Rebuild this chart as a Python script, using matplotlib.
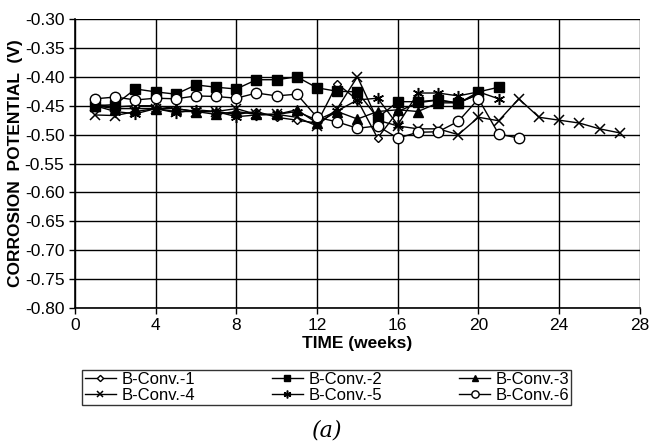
import matplotlib
matplotlib.use('Agg')
import matplotlib.pyplot as plt

WEEKS_1 = list(range(1, 21))
CONV_1 = [-0.448, -0.452, -0.450, -0.450, -0.455, -0.460, -0.460, -0.465, -0.460, -0.470,
          -0.475, -0.480, -0.412, -0.440, -0.506, -0.460, -0.445, -0.440, -0.445, -0.430]

WEEKS_2 = list(range(1, 22))
CONV_2 = [-0.450, -0.448, -0.421, -0.426, -0.430, -0.414, -0.418, -0.421, -0.405, -0.405,
          -0.400, -0.419, -0.425, -0.426, -0.471, -0.443, -0.443, -0.440, -0.446, -0.426,
          -0.418]

WEEKS_3 = list(range(1, 21))
CONV_3 = [-0.450, -0.455, -0.455, -0.455, -0.455, -0.460, -0.465, -0.460, -0.465, -0.465,
          -0.457, -0.480, -0.460, -0.473, -0.460, -0.457, -0.460, -0.445, -0.445, -0.430]

WEEKS_4 = list(range(1, 28))
CONV_4 = [-0.466, -0.467, -0.460, -0.455, -0.460, -0.460, -0.460, -0.455, -0.465, -0.465,
          -0.470, -0.485, -0.455, -0.400, -0.475, -0.485, -0.490, -0.490, -0.500, -0.470,
          -0.476, -0.438, -0.470, -0.475, -0.480, -0.490, -0.497]

WEEKS_5 = list(range(1, 22))
CONV_5 = [-0.450, -0.460, -0.464, -0.455, -0.462, -0.457, -0.460, -0.469, -0.466, -0.465,
          -0.460, -0.475, -0.459, -0.440, -0.437, -0.483, -0.428, -0.428, -0.433, -0.426,
          -0.438]

WEEKS_6 = list(range(1, 23))
CONV_6 = [-0.438, -0.435, -0.440, -0.437, -0.438, -0.433, -0.434, -0.437, -0.428, -0.433,
          -0.430, -0.470, -0.478, -0.489, -0.485, -0.506, -0.496, -0.495, -0.477, -0.438,
          -0.499, -0.506]

X_TICKS = list(range(0, 29, 4))
Y_TICKS = [-0.30 - 0.05 * i for i in range(11)]


def main():
    plt.rcParams['font.family'] = ['Liberation Sans', 'DejaVu Sans']
    fig = plt.figure(figsize=(6.51, 4.48), dpi=100)
    ax = fig.add_axes([0.115, 0.3125, 0.868, 0.645])

    style = dict(color='black', lw=1.0, mec='black')
    ax.plot(WEEKS_1, CONV_1, marker='D', ms=4.5, mfc='white', label='B-Conv.-1', **style)
    ax.plot(WEEKS_2, CONV_2, marker='s', ms=7, mfc='black', label='B-Conv.-2', **style)
    ax.plot(WEEKS_3, CONV_3, marker='^', ms=7, mfc='black', label='B-Conv.-3', **style)
    ax.plot(WEEKS_4, CONV_4, marker='x', ms=7, mew=1.1, label='B-Conv.-4', **style)
    ax.plot(WEEKS_5, CONV_5, marker=(6, 2, 0), ms=8, mew=1.1, label='B-Conv.-5', **style)
    ax.plot(WEEKS_6, CONV_6, marker='o', ms=7.5, mfc='white', label='B-Conv.-6', **style)

    ax.set_xlim(0, 28)
    ax.set_ylim(-0.80, -0.30)
    ax.set_xticks(X_TICKS)
    ax.set_yticks(Y_TICKS)
    ax.set_yticklabels(['%.2f' % v for v in Y_TICKS])
    ax.tick_params(labelsize=12.5, direction='out', length=4, width=1, colors='black')
    ax.grid(True, color='black', lw=1.0)
    ax.set_axisbelow(True)
    for s in ['top', 'right']:
        ax.spines[s].set_visible(False)
    for s in ['left', 'bottom']:
        ax.spines[s].set_linewidth(1.2)

    ax.set_xlabel('TIME (weeks)', fontsize=12.5, fontweight='bold', labelpad=2)
    ax.set_ylabel('CORROSION  POTENTIAL  (V)', fontsize=12.5, fontweight='bold', labelpad=1)

    # row-wise order like the original legend
    handles, labels = ax.get_legend_handles_labels()
    order = [0, 3, 1, 4, 2, 5]
    lgd = fig.legend([handles[i] for i in order], [labels[i] for i in order],
                     loc='upper center', bbox_to_anchor=(0.502, 0.175),
                     ncol=3, fontsize=12, frameon=True, fancybox=False,
                     edgecolor='black', handlelength=1.9, handletextpad=0.3,
                     borderpad=0.15, labelspacing=0.05, columnspacing=4.6,
                     markerscale=0.7, borderaxespad=0.0)
    lgd.get_frame().set_linewidth(1.0)

    fig.text(0.502, 0.025, '(a)', fontsize=16, style='italic', family='DejaVu Serif',
             ha='center')

    fig.savefig('out.png', dpi=100)


if __name__ == '__main__':
    main()
